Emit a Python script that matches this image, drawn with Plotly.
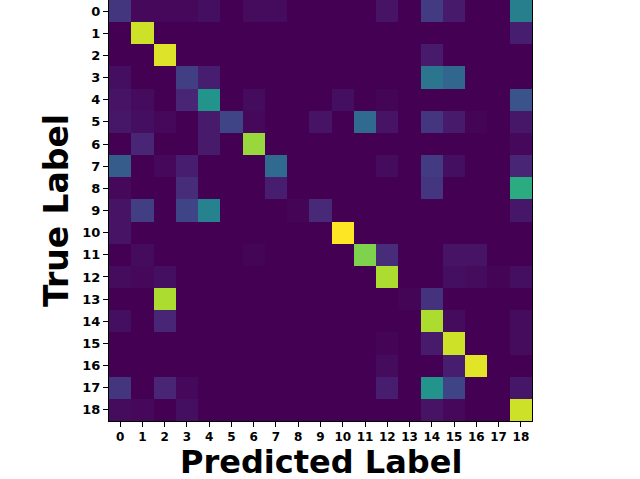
import plotly.graph_objects as go

labels = [str(i) for i in range(19)]

# Normalized confusion matrix rows (true label), columns (predicted label)
row0  = [0.15,0.02,0.02,0.02,0.04,0.00,0.03,0.03,0.00,0.00,0.00,0.00,0.05,0.00,0.17,0.07,0.00,0.00,0.42]
row1  = [0.00,0.90,0.00,0.00,0.00,0.00,0.00,0.00,0.00,0.00,0.00,0.00,0.00,0.00,0.00,0.00,0.00,0.00,0.08]
row2  = [0.00,0.00,0.92,0.00,0.00,0.00,0.00,0.00,0.00,0.00,0.00,0.00,0.00,0.00,0.07,0.00,0.00,0.00,0.00]
row3  = [0.04,0.00,0.00,0.18,0.08,0.00,0.00,0.00,0.00,0.00,0.00,0.00,0.00,0.00,0.38,0.32,0.00,0.00,0.00]
row4  = [0.05,0.03,0.00,0.10,0.50,0.00,0.03,0.00,0.00,0.00,0.04,0.00,0.01,0.00,0.00,0.00,0.00,0.00,0.25]
row5  = [0.06,0.04,0.02,0.00,0.07,0.20,0.02,0.00,0.00,0.05,0.00,0.33,0.05,0.00,0.15,0.07,0.01,0.00,0.06]
row6  = [0.00,0.10,0.00,0.00,0.07,0.00,0.82,0.00,0.00,0.00,0.00,0.00,0.00,0.00,0.00,0.00,0.00,0.00,0.02]
row7  = [0.28,0.00,0.02,0.08,0.00,0.00,0.00,0.33,0.00,0.00,0.00,0.00,0.03,0.00,0.17,0.04,0.00,0.00,0.10]
row8  = [0.02,0.00,0.00,0.12,0.00,0.00,0.00,0.08,0.00,0.00,0.00,0.00,0.00,0.00,0.15,0.00,0.00,0.00,0.60]
row9  = [0.05,0.18,0.00,0.20,0.43,0.00,0.00,0.00,0.01,0.11,0.00,0.00,0.00,0.00,0.00,0.00,0.00,0.00,0.06]
row10 = [0.05,0.00,0.00,0.00,0.00,0.00,0.00,0.00,0.00,0.00,0.97,0.00,0.00,0.00,0.00,0.00,0.00,0.00,0.00]
row11 = [0.00,0.03,0.00,0.00,0.00,0.00,0.01,0.00,0.00,0.00,0.00,0.78,0.12,0.00,0.00,0.05,0.05,0.00,0.00]
row12 = [0.03,0.02,0.04,0.00,0.00,0.00,0.00,0.00,0.00,0.00,0.00,0.00,0.85,0.00,0.00,0.04,0.03,0.01,0.04]
row13 = [0.00,0.00,0.85,0.00,0.00,0.00,0.00,0.00,0.00,0.00,0.00,0.00,0.00,0.01,0.14,0.00,0.00,0.00,0.00]
row14 = [0.04,0.00,0.10,0.00,0.00,0.00,0.00,0.00,0.00,0.00,0.00,0.00,0.00,0.00,0.85,0.03,0.00,0.00,0.03]
row15 = [0.00,0.00,0.00,0.00,0.00,0.00,0.00,0.00,0.00,0.00,0.00,0.00,0.01,0.00,0.07,0.90,0.00,0.00,0.03]
row16 = [0.00,0.00,0.00,0.00,0.00,0.00,0.00,0.00,0.00,0.00,0.00,0.00,0.03,0.00,0.00,0.08,0.93,0.00,0.00]
row17 = [0.15,0.00,0.10,0.02,0.00,0.00,0.00,0.00,0.00,0.00,0.00,0.00,0.08,0.00,0.50,0.20,0.00,0.00,0.06]
row18 = [0.03,0.02,0.00,0.04,0.00,0.00,0.00,0.00,0.00,0.00,0.00,0.00,0.00,0.00,0.05,0.02,0.00,0.00,0.90]

z = [row0,row1,row2,row3,row4,row5,row6,row7,row8,row9,row10,row11,row12,row13,row14,row15,row16,row17,row18]

x_title = "Predicted Label"
y_title = "True Label"

fig = go.Figure(go.Heatmap(
    z=z, x=labels, y=labels, colorscale="Viridis", showscale=False,
    zmin=0, xgap=0, ygap=0,
))

font_family = "DejaVu Sans"
fig.update_layout(
    width=640, height=479,
    margin=dict(l=109, r=108, t=0, b=58, autoexpand=False),
    plot_bgcolor="white", paper_bgcolor="white",
    font=dict(family=font_family, color="black"),
)
fig.update_xaxes(
    type="category", ticks="outside", ticklen=5, tickwidth=1, tickcolor="black",
    tickfont=dict(size=12, family=font_family, weight="bold"),
    showgrid=False, zeroline=False, automargin=False,
    showline=True, linecolor="black", linewidth=1, mirror=True,
)
fig.update_yaxes(
    type="category", autorange="reversed", ticks="outside", ticklen=5, tickwidth=1,
    tickcolor="black",
    tickfont=dict(size=13, family=font_family, weight="bold"),
    showgrid=False, zeroline=False, automargin=False,
    showline=True, linecolor="black", linewidth=1, mirror=True,
)
fig.add_annotation(
    text="<b>" + x_title + "</b>", xref="paper", yref="paper", x=0.5, y=0,
    xanchor="center", yanchor="middle", yshift=-41, showarrow=False,
    font=dict(size=32, family=font_family, color="black"),
)
fig.add_annotation(
    text="<b>" + y_title + "</b>", xref="paper", yref="paper", x=0, y=0.4988,
    xanchor="center", yanchor="middle", xshift=-53, textangle=-90, showarrow=False,
    font=dict(size=33, family=font_family, color="black"),
)

fig.write_html("out.html", config={"displayModeBar": False},
               post_script="document.body.style.margin='0';")
